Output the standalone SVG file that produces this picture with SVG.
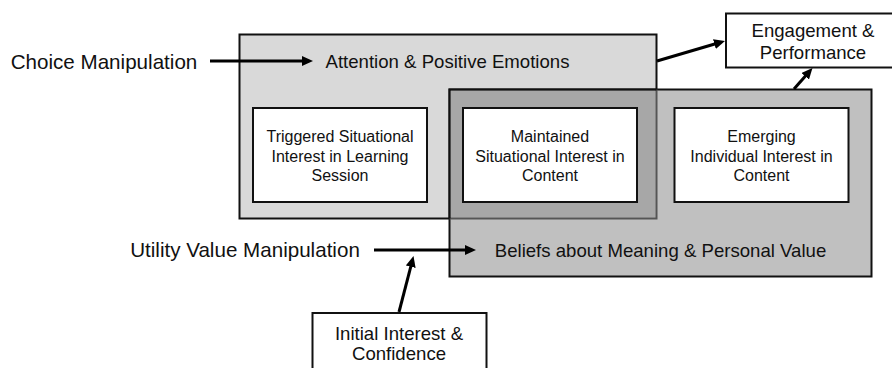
<svg xmlns="http://www.w3.org/2000/svg" width="892" height="368" viewBox="0 0 892 368">
<style>
text{font-family:"Liberation Sans",Arial,sans-serif;fill:#111;text-anchor:middle}
.big{font-size:20.6px}
.mid{font-size:18.6px}
.sm{font-size:16px}
.box{fill:#fff;stroke:#111;stroke-width:2}
.conn{stroke:#000;stroke-width:3;fill:none;marker-end:url(#ah)}
</style>
<defs>
<marker id="ah" markerUnits="userSpaceOnUse" markerWidth="11" markerHeight="10" refX="3" refY="5" orient="auto">
<path d="M0,0 L11,5 L0,10 z" fill="#000"/>
</marker>
</defs>
<rect width="892" height="368" fill="#fff"/>
<g id="attention">
<rect x="239.5" y="34.5" width="417" height="184" fill="#d9d9d9" stroke="#111" stroke-width="2"/>
<text class="mid" x="447.5" y="67.7">Attention &amp; Positive Emotions</text>
</g>
<g id="beliefs">
<rect x="449.5" y="89.5" width="422" height="187" fill="#c0c0c0" stroke="#111" stroke-width="2"/>
<rect x="450.5" y="90.5" width="205" height="127" fill="#a7a7a7"/>
<path d="M656.5,89.5 V218.5 H449.5" fill="none" stroke="#555" stroke-width="2"/>
<path d="M449.5,218.5 V89.5 H656.5" fill="none" stroke="#111" stroke-width="2"/>
<text class="mid" x="660.5" y="256.5">Beliefs about Meaning &amp; Personal Value</text>
</g>
<g id="triggered">
<rect class="box" x="253" y="108" width="174" height="94"/>
<text class="sm" x="340" y="142">Triggered Situational</text>
<text class="sm" x="340" y="162">Interest in Learning</text>
<text class="sm" x="340" y="181">Session</text>
</g>
<g id="maintained">
<rect class="box" x="463" y="108" width="174" height="94"/>
<text class="sm" x="550" y="142">Maintained</text>
<text class="sm" x="550" y="162">Situational Interest in</text>
<text class="sm" x="550" y="181">Content</text>
</g>
<g id="emerging">
<rect class="box" x="674.5" y="108" width="174" height="94"/>
<text class="sm" x="761.5" y="142">Emerging</text>
<text class="sm" x="761.5" y="162">Individual Interest in</text>
<text class="sm" x="761.5" y="181">Content</text>
</g>
<g id="engagement">
<rect class="box" x="726" y="13.5" width="176" height="54"/>
<text class="mid" x="813" y="37">Engagement &amp;</text>
<text class="mid" x="813" y="59">Performance</text>
</g>
<g id="initial">
<rect class="box" x="312.5" y="313" width="174" height="70"/>
<text class="mid" x="399" y="339.5">Initial Interest &amp;</text>
<text class="mid" x="399" y="360">Confidence</text>
</g>
<g id="choice">
<text class="big" x="104" y="68.5">Choice Manipulation</text>
</g>
<g id="utility">
<text class="big" x="245" y="257">Utility Value Manipulation</text>
</g>
<g id="connectors">
<line class="conn" x1="210" y1="61" x2="305" y2="61"/>
<line class="conn" x1="657" y1="61" x2="717.3" y2="43.3"/>
<line class="conn" x1="794" y1="89" x2="807.2" y2="74"/>
<line class="conn" x1="374" y1="250" x2="468" y2="250"/>
<line class="conn" x1="399" y1="312" x2="411.5" y2="263.8"/>
</g>
</svg>
